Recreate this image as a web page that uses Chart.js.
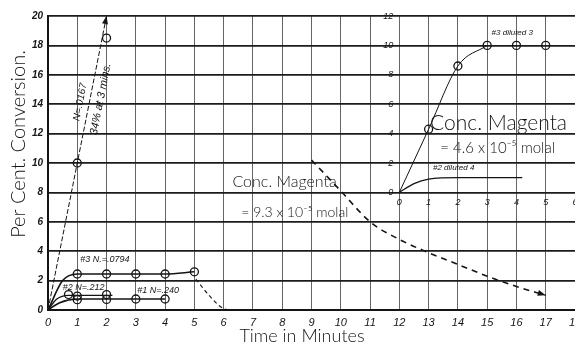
<!DOCTYPE html>
<html>
<head>
<meta charset="utf-8">
<script src="https://cdn.jsdelivr.net/npm/chart.js@4.4.1/dist/chart.umd.min.js"></script>
<style>
  html, body { margin: 0; padding: 0; background: #fff; overflow: hidden; }
  #wrap { position: relative; width: 575px; height: 346px; }
  #wrap canvas { display: block; }
</style>
</head>
<body>
<div id="wrap"><canvas id="chart"></canvas></div>
<script>
/* Per cent conversion of magenta vs time - main panel (9.3e-5 molal) with inset (4.6e-5 molal) */

// main panel, tick labels
var xTickLabels = ["0","1","2","3","4","5","6","7","8","9","10","11","12","13","14","15","16","17","18"];
var yTickLabels = ["0","2","4","6","8","10","12","14","16","18","20"];

// N=.0167 run (34% at 3 mins) - drawn line and plotted circles
var fastLineT = [0, 1, 2];
var fastLineV = [0, 10, 20];
var fastPtT = [1, 2];
var fastPtV = [10, 18.5];

// #3 N=.0794
var n3CurveT = [0, 0.5, 1, 2, 3, 4, 5];
var n3CurveV = [0, 2.0, 2.45, 2.45, 2.45, 2.45, 2.6];
var n3PtT = [1, 2, 3, 4, 5];
var n3PtV = [2.45, 2.45, 2.45, 2.45, 2.6];
var n3DropT = [5.05, 5.5, 6.0, 6.4];
var n3DropV = [2.1, 1.0, 0.1, 0.0];

// #2 N=.212
var n2CurveT = [0, 0.3, 0.7, 2.2];
var n2CurveV = [0, 0.75, 1.0, 1.0];
var n2PtT = [0.7, 1, 2];
var n2PtV = [1.05, 0.95, 1.05];

// #1 N=.240
var n1CurveT = [0, 0.4, 1, 4];
var n1CurveV = [0, 0.5, 0.75, 0.75];
var n1PtT = [1, 2, 3, 4];
var n1PtV = [0.7, 0.72, 0.75, 0.75];

// dashed falling curve
var decayT = [9, 10, 11, 12, 13, 14, 15, 16, 17];
var decayV = [10.2, 8.1, 6.0, 4.8, 3.9, 3.1, 2.3, 1.6, 1.0];

// inset, tick labels
var insetXLabels = ["0","1","2","3","4","5","6"];
var insetYLabels = ["0","2","4","6","8","10","12"];

// inset: #3 diluted 3
var dil3CurveT = [0, 1, 2, 3];
var dil3CurveV = [0, 4.3, 8.6, 10];
var dil3PtT = [1, 2, 3, 4, 5];
var dil3PtV = [4.3, 8.6, 10, 10, 10];

// inset: #2 diluted 4
var dil4CurveT = [0, 0.5, 1, 2, 3, 4.2];
var dil4CurveV = [0, 0.6, 0.9, 1.0, 1.0, 1.0];

function xy(ts, vs){ return ts.map(function(t, i){ return { x: t, y: vs[i] }; }); }

var INK = "#141414";
var HAND = "'Liberation Sans', 'DejaVu Sans', sans-serif";
var LETTER = "Lato, 'Open Sans', 'Liberation Sans', sans-serif";

function curve(ts, vs, extra){
  var ds = { data: xy(ts, vs), showLine: true, borderColor: INK, borderWidth: 1.3,
    pointRadius: 0, cubicInterpolationMode: "monotone" };
  return Object.assign(ds, extra || {});
}
function marks(ts, vs, extra){
  var ds = { data: xy(ts, vs), showLine: false, pointRadius: 4, pointBorderWidth: 1.3,
    pointBorderColor: INK, pointBackgroundColor: "rgba(0,0,0,0)" };
  return Object.assign(ds, extra || {});
}

var inset = { xAxisID: "x2", yAxisID: "y2" };

// text on the paper: position in main-axis units
var notes = [
  { text: "Conc. Magenta", x: 6.3, y: 8.7, font: "300 16px " + LETTER },
  { text: "= 9.3 x 10\u207B\u2075 molal", x: 6.6, y: 6.65, font: "300 14px " + LETTER },
  { text: "Conc. Magenta", x: 13.05, y: 12.7, font: "300 21px " + LETTER },
  { text: "= 4.6 x 10\u207B\u2075 molal", x: 13.4, y: 11.0, font: "300 15px " + LETTER },
  { text: "#3 diluted 3", x: 15.15, y: 18.85, font: "italic 8px " + HAND },
  { text: "#2 diluted 4", x: 13.15, y: 9.65, font: "italic 8px " + HAND },
  { text: "#3 N.=.0794", x: 1.1, y: 3.45, font: "italic 9px " + HAND },
  { text: "#2 N=.212", x: 0.5, y: 1.55, font: "italic 9px " + HAND },
  { text: "#1 N=.240", x: 3.05, y: 1.35, font: "italic 9px " + HAND },
  { text: "N=.0167", x: 1.1, y: 14.15, font: "italic 10px " + HAND, angle: -79, align: "center" },
  { text: "34% at 3 mins.", x: 1.8, y: 14.35, font: "italic 11px " + HAND, angle: -79, align: "center" }
];

var paperPlugin = {
  id: "paper",
  afterDatasetsDraw: function(chart){
    var ctx = chart.ctx, sx = chart.scales.x, sy = chart.scales.y;
    var ix = chart.scales.x2, iy = chart.scales.y2;
    ctx.save();
    ctx.fillStyle = INK;
    ctx.strokeStyle = INK;

    // arrow heads at the ends of flagged lines
    chart.data.datasets.forEach(function(ds, i){
      if (!ds.arrowHead) return;
      var pts = chart.getDatasetMeta(i).data;
      var a = pts[pts.length - 2], b = pts[pts.length - 1];
      var ang = Math.atan2(b.y - a.y, b.x - a.x);
      ctx.save();
      ctx.translate(b.x, b.y);
      ctx.rotate(ang);
      ctx.beginPath();
      ctx.moveTo(0, 0);
      ctx.lineTo(-8, -3);
      ctx.lineTo(-8, 3);
      ctx.closePath();
      ctx.fill();
      ctx.restore();
    });

    // free text
    notes.forEach(function(n){
      var px = sx.getPixelForValue(n.x), py = sy.getPixelForValue(n.y);
      ctx.save();
      ctx.translate(px, py);
      if (n.angle) ctx.rotate(n.angle * Math.PI / 180);
      ctx.font = n.font;
      ctx.textAlign = n.align || "left";
      ctx.textBaseline = "middle";
      ctx.fillText(n.text, 0, 0);
      ctx.restore();
    });

    // inset tick labels, placed through the inset scales
    ctx.font = "italic 9px " + HAND;
    ctx.textAlign = "center";
    ctx.textBaseline = "middle";
    insetXLabels.forEach(function(l){
      ctx.fillText(l, ix.getPixelForValue(Number(l)), iy.getPixelForValue(0) + 10);
    });
    ctx.textAlign = "right";
    insetYLabels.forEach(function(l){
      ctx.fillText(l, ix.getPixelForValue(0) - 6, iy.getPixelForValue(Number(l)));
    });

    // axis titles
    ctx.font = "300 20px " + LETTER;
    ctx.textAlign = "center";
    ctx.save();
    ctx.translate(19, 144);
    ctx.rotate(-Math.PI / 2);
    ctx.fillText("Per Cent. Conversion.", 0, 0);
    ctx.restore();
    ctx.font = "300 18px " + LETTER;
    ctx.fillText("Time in Minutes", 302, 336);
    ctx.restore();
  }
};

new Chart(document.getElementById("chart"), {
  type: "scatter",
  data: {
    datasets: [
      curve(fastLineT, fastLineV, { borderWidth: 1, borderDash: [5, 2], cubicInterpolationMode: "default", arrowHead: true }),
      marks(fastPtT, fastPtV),
      curve(n3CurveT, n3CurveV, { borderWidth: 1.6 }),
      marks(n3PtT, n3PtV),
      curve(n3DropT, n3DropV, { borderWidth: 1.1, borderDash: [4, 3] }),
      curve(n2CurveT, n2CurveV),
      marks(n2PtT, n2PtV),
      curve(n1CurveT, n1CurveV, { borderWidth: 1.6 }),
      marks(n1PtT, n1PtV),
      curve(decayT, decayV, { borderWidth: 1.6, borderDash: [6, 5], arrowHead: true }),
      curve(dil3CurveT, dil3CurveV, Object.assign({ borderWidth: 1 }, inset)),
      marks(dil3PtT, dil3PtV, inset),
      curve(dil4CurveT, dil4CurveV, Object.assign({ borderWidth: 1.3 }, inset))
    ]
  },
  options: {
    responsive: true, maintainAspectRatio: false, animation: false,
    layout: { autoPadding: false, padding: { top: 16, right: 0, left: 0, bottom: 0 } },
    plugins: { legend: { display: false }, tooltip: { enabled: false } },
    scales: {
      x: {
        type: "linear", min: 0, max: 18,
        afterFit: function(s){ s.height = 36; s.paddingLeft = 0; s.paddingRight = 0; },
        ticks: { stepSize: 1, padding: 6, color: INK, maxRotation: 0, autoSkip: false,
          font: { family: HAND, size: 11, style: "italic" },
          callback: function(v){ return xTickLabels[v]; } },
        grid: { color: "#555", lineWidth: 0.9, drawTicks: false },
        border: { color: INK, width: 2 }
      },
      y: {
        type: "linear", min: 0, max: 20,
        afterFit: function(s){ s.width = 48; s.paddingTop = 0; s.paddingBottom = 0; },
        ticks: { stepSize: 2, padding: 5, color: INK,
          font: { family: HAND, size: 10, style: "italic", weight: "bold" },
          callback: function(v){ return yTickLabels[v / 2]; } },
        grid: { color: "#1c1c1c", lineWidth: 1.7, drawTicks: false },
        border: { color: INK, width: 2 }
      },
      x2: { type: "linear", min: -12, max: 6, display: false },
      y2: { type: "linear", min: -8, max: 12, display: false }
    }
  },
  plugins: [paperPlugin]
});
</script>
</body>
</html>
